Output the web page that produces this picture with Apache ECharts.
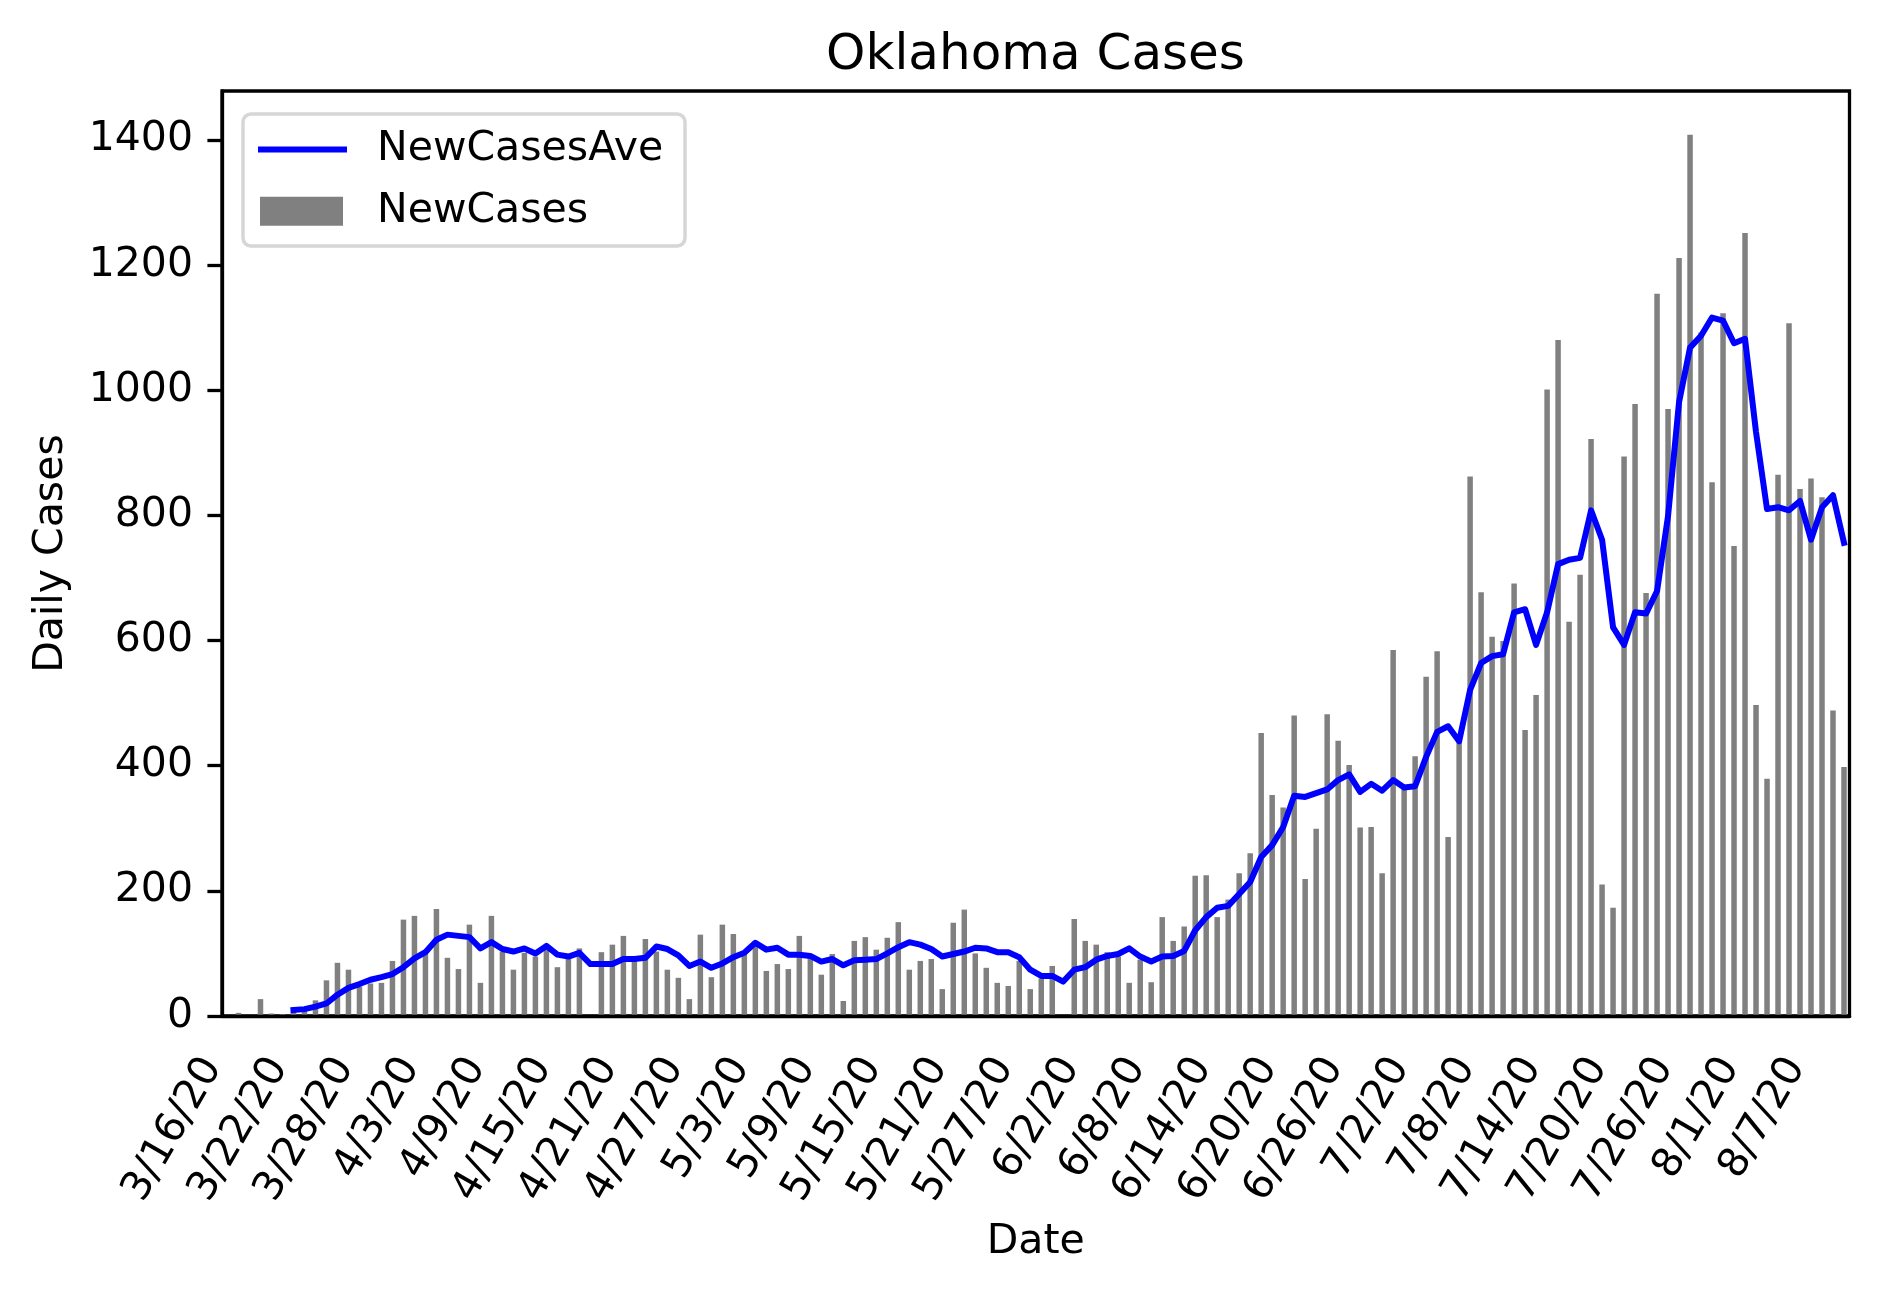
<!DOCTYPE html>
<html>
<head>
<meta charset="utf-8">
<script src="https://cdn.jsdelivr.net/npm/echarts@6/dist/echarts.min.js"></script>
<style>
html,body{margin:0;padding:0;background:#fff;}
#chart{width:1879px;height:1291px;}
</style>
</head>
<body>
<div id="chart"></div>
<script>
const dates = [
'3/16/20','3/17/20','3/18/20','3/19/20','3/20/20','3/21/20','3/22/20','3/23/20','3/24/20','3/25/20','3/26/20','3/27/20','3/28/20','3/29/20','3/30/20','3/31/20',
'4/1/20','4/2/20','4/3/20','4/4/20','4/5/20','4/6/20','4/7/20','4/8/20','4/9/20','4/10/20','4/11/20','4/12/20','4/13/20','4/14/20','4/15/20','4/16/20','4/17/20','4/18/20','4/19/20','4/20/20','4/21/20','4/22/20','4/23/20','4/24/20','4/25/20','4/26/20','4/27/20','4/28/20','4/29/20','4/30/20',
'5/1/20','5/2/20','5/3/20','5/4/20','5/5/20','5/6/20','5/7/20','5/8/20','5/9/20','5/10/20','5/11/20','5/12/20','5/13/20','5/14/20','5/15/20','5/16/20','5/17/20','5/18/20','5/19/20','5/20/20','5/21/20','5/22/20','5/23/20','5/24/20','5/25/20','5/26/20','5/27/20','5/28/20','5/29/20','5/30/20','5/31/20',
'6/1/20','6/2/20','6/3/20','6/4/20','6/5/20','6/6/20','6/7/20','6/8/20','6/9/20','6/10/20','6/11/20','6/12/20','6/13/20','6/14/20','6/15/20','6/16/20','6/17/20','6/18/20','6/19/20','6/20/20','6/21/20','6/22/20','6/23/20','6/24/20','6/25/20','6/26/20','6/27/20','6/28/20','6/29/20','6/30/20',
'7/1/20','7/2/20','7/3/20','7/4/20','7/5/20','7/6/20','7/7/20','7/8/20','7/9/20','7/10/20','7/11/20','7/12/20','7/13/20','7/14/20','7/15/20','7/16/20','7/17/20','7/18/20','7/19/20','7/20/20','7/21/20','7/22/20','7/23/20','7/24/20','7/25/20','7/26/20','7/27/20','7/28/20','7/29/20','7/30/20','7/31/20',
'8/1/20','8/2/20','8/3/20','8/4/20','8/5/20','8/6/20','8/7/20','8/8/20','8/9/20','8/10/20'
];

const newCases = [
0,5,0,27,4,3,7,10,25,57,85,74,47,52,53,88,
154,160,100,171,93,75,146,53,160,103,74,101,95,106,78,91,108,0,102,114,128,90,123,103,74,61,27,130,62,146,
131,100,119,72,83,75,128,98,66,99,24,120,126,106,125,150,74,88,91,43,149,170,100,77,53,48,88,43,60,80,0,
155,120,114,102,95,53,90,54,158,120,143,224,225,158,186,228,260,452,353,333,480,219,299,482,440,401,301,302,228,585,
364,415,542,583,286,440,862,677,606,599,691,457,513,1001,1080,630,705,922,210,173,894,978,676,1154,970,1211,1408,1092,853,1123,751,
1251,497,379,865,1107,842,859,829,488,398
];

const newCasesAve = [
null,null,null,null,null,null,9.6,11,15,20,34,45,51,58,62,67,
78,92,102,122,130,128,126,108,118,107,103,108,100,112,98,95,101,83,83,83,91,91,93,111,107,97,80,87,77,84,
94,101,117,106,109,98,98,96,87,91,81,89,90,91,100,110,118,114,107,95,99,103,109,108,102,102,94,74,64,64,55,
74,78,90,96,99,108,95,87,95,96,104,137,158,173,176,195,214,254,273,302,352,350,356,362,377,386,358,371,360,377,
365,367,414,454,463,439,521,564,575,578,645,650,593,645,722,729,732,808,761,621,593,645,643,679,799,981,1068,1087,1116,1111,1075,
1082,933,810,813,808,823,761,813,832,756
];

const yTicks = [0,200,400,600,800,1000,1200,1400];

const FONT = 'DejaVu Sans';
const chart = echarts.init(document.getElementById('chart'), null, {renderer:'canvas'});

chart.setOption({
  animation: false,
  backgroundColor: '#ffffff',
  title: {
    text: 'Oklahoma Cases',
    left: 1030.5,
    textAlign: 'center',
    top: 26,
    textStyle: {fontFamily: FONT, fontSize: 50, fontWeight: 'normal', color: '#000'}
  },
  grid: {
    left: 222, right: 29.5, top: 91, bottom: 275,
    show: true, borderColor: '#000', borderWidth: 3.3, backgroundColor: 'transparent'
  },
  graphic: [{
    type: 'rect', z: 50,
    shape: {x: 243, y: 114, width: 442, height: 132, r: 8},
    style: {fill: 'rgba(255,255,255,0.8)', stroke: '#d6d6d6', lineWidth: 3.5}
  }],
  legend: [
    {
      z: 60, padding: 0, left: 258, top: 129,
      itemWidth: 89, itemHeight: 6,
      data: [{name: 'NewCasesAve', icon: 'rect'}],
      textStyle: {fontFamily: FONT, fontSize: 41, color: '#000', padding: [2.4,0,0,25]}
    },
    {
      z: 60, padding: 0, left: 260, top: 190.7,
      itemWidth: 83, itemHeight: 29,
      data: [{name: 'NewCases', icon: 'rect'}],
      textStyle: {fontFamily: FONT, fontSize: 41, color: '#000', padding: [5,0,0,29]}
    }
  ],
  xAxis: {
    type: 'category',
    data: dates,
    boundaryGap: true,
    z: 10,
    name: 'Date',
    nameLocation: 'middle',
    nameGap: 206,
    nameTextStyle: {fontFamily: FONT, fontSize: 41, color: '#000'},
    axisLine: {lineStyle: {color: '#000', width: 3.3}},
    axisTick: {alignWithLabel: true, interval: 0, length: 14.6, lineStyle: {color: '#000', width: 3.3}},
    axisLabel: {interval: 5, rotate: 60, margin: 19, padding: [0, 30, 0, 0], fontFamily: FONT, fontSize: 41, color: '#000'},
    splitLine: {show: false}
  },
  yAxis: {
    type: 'value',
    min: 0, max: 1478, interval: 200,
    z: 10,
    name: 'Daily Cases',
    nameLocation: 'middle',
    nameGap: 150,
    nameTextStyle: {fontFamily: FONT, fontSize: 41, color: '#000'},
    axisLine: {show: true, lineStyle: {color: '#000', width: 3.3}},
    axisTick: {show: true, length: 14.6, lineStyle: {color: '#000', width: 3.3}, customValues: yTicks},
    axisLabel: {margin: 29, fontFamily: FONT, fontSize: 41, color: '#000', customValues: yTicks,
      formatter: function (v) { return String(v); }},
    splitLine: {show: false}
  },
  series: [
    {
      name: 'NewCases',
      type: 'bar',
      data: newCases,
      barWidth: '50%',
      itemStyle: {color: '#808080'},
      z: 2
    },
    {
      name: 'NewCasesAve',
      type: 'line',
      data: newCasesAve,
      showSymbol: false,
      symbol: 'none',
      itemStyle: {color: '#0000ff'},
      lineStyle: {color: '#0000ff', width: 6, cap: 'square', join: 'round'},
      z: 3
    }
  ]
});
</script>
</body>
</html>
